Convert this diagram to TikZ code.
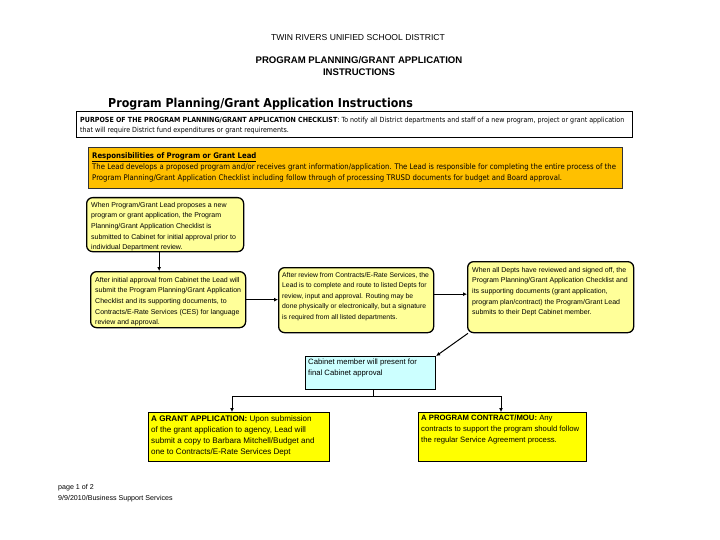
\documentclass[tikz,border=0pt]{standalone}
\usepackage{fontspec}
\setmainfont{Liberation Sans}
\newfontfamily\tahoma[FakeStretch=0.9]{DejaVu Sans}
\usetikzlibrary{arrows.meta}
\definecolor{paleyellow}{HTML}{FFFF99}
\definecolor{paleblue}{HTML}{CCFFFF}
\definecolor{leadorange}{HTML}{FFC000}
\definecolor{brightyellow}{HTML}{FFFF00}
\tikzset{
  stepbox/.style={draw=black, line width=1.3pt, rounded corners=6pt, fill=paleyellow, anchor=north west},
  endbox/.style={draw=black, line width=1.3pt, fill=brightyellow, anchor=north west},
  boxtext/.style={anchor=north west, align=left, inner sep=0pt, font=\fontsize{7}{10.6}\selectfont},
  endtext/.style={boxtext, font=\fontsize{7.7}{11}\selectfont},
  arr/.style={-{Latex[length=4pt,width=4pt]}, line width=1pt}
}
\begin{document}
\begin{tikzpicture}[x=1pt,y=-1pt]
  \useasboundingbox[fill=white] (0,0) rectangle (720,540);
  % headings
  \node[font=\fontsize{8.6}{9}\selectfont] (district) at (358,38) {TWIN RIVERS UNIFIED SCHOOL DISTRICT};
  \node[align=center, font=\bfseries\fontsize{9.6}{12}\selectfont] (title) at (359,66) {PROGRAM PLANNING/GRANT APPLICATION\\INSTRUCTIONS};
  \node[anchor=west, inner sep=0pt, font=\tahoma\bfseries\fontsize{12.3}{15}\selectfont] (heading) at (108,104) {Program Planning/Grant Application Instructions};
  % purpose and lead
  \node[draw=black, line width=1.3pt, minimum width=556pt, minimum height=26pt, anchor=north west] (purpose) at (76,111) {};
  \node[anchor=north west, align=left, inner sep=0pt, font=\tahoma\fontsize{7.05}{10}\selectfont] (purposetext) at ([shift={(4,5.5)}]purpose.north west) {\textbf{PURPOSE OF THE PROGRAM PLANNING/GRANT APPLICATION CHECKLIST}: To notify all District departments and staff of a new program, project or grant application\\that will require District fund expenditures or grant requirements.};
  \node[draw=black!80, line width=0.8pt, fill=leadorange, minimum width=534pt, minimum height=41pt, anchor=north west] (lead) at (88,147) {};
  \node[anchor=north west, align=left, inner sep=0pt, font=\tahoma\fontsize{7.7}{11.2}\selectfont] (leadtext) at ([shift={(4,5)}]lead.north west) {\textbf{\underline{Responsibilities of Program or Grant Lead}}\\The Lead develops a proposed program and/or receives grant information/application. The Lead is responsible for completing the entire process of the\\Program Planning/Grant Application Checklist including follow through of processing TRUSD documents for budget and Board approval.};
  % steps
  \node[stepbox, minimum width=157pt, minimum height=54pt] (b1) at (86,197) {};
  \node[boxtext] (t1) at ([shift={(5,5)}]b1.north west) {When Program/Grant Lead proposes a new\\program or grant application, the Program\\Planning/Grant Application Checklist is\\submitted to Cabinet for initial approval prior to\\individual Department review.};
  \node[stepbox, minimum width=155pt, minimum height=56pt] (b2) at (90,271) {};
  \node[boxtext] (t2) at ([shift={(5,6)}]b2.north west) {After initial approval from Cabinet the Lead will\\submit the Program Planning/Grant Application\\Checklist and its supporting documents, to\\Contracts/E-Rate Services (CES) for language\\review and approval.};
  \node[stepbox, minimum width=155pt, minimum height=65pt] (b3) at (278,267) {};
  \node[boxtext, font=\fontsize{6.8}{10.6}\selectfont] (t3) at ([shift={(4,5)}]b3.north west) {After review from Contracts/E-Rate Services, the\\Lead is to complete and route to listed Depts for\\review, input and approval. Routing may be\\done physically or electronically, but a signature\\is required from all listed departments.};
  \node[stepbox, minimum width=166pt, minimum height=71pt] (b4) at (467,261) {};
  \node[boxtext] (t4) at ([shift={(5,6)}]b4.north west) {When all Depts have reviewed and signed off, the\\Program Planning/Grant Application Checklist and\\its supporting documents (grant application,\\program plan/contract) the Program/Grant Lead\\submits to their Dept Cabinet member.};
  \node[draw=black, line width=1.1pt, fill=paleblue, minimum width=130pt, minimum height=33pt, anchor=north west] (cab) at (305,356) {};
  \node[endtext] (tcab) at ([shift={(3,3)}]cab.north west) {Cabinet member will present for\\final Cabinet approval};
  \node[endbox, minimum width=181pt, minimum height=49pt] (grant) at (148,412) {};
  \node[endtext, font=\fontsize{8.1}{11}\selectfont] (tgrant) at ([shift={(3,3)}]grant.north west) {\textbf{A GRANT APPLICATION:} Upon submission\\of the grant application to agency, Lead will\\submit a copy to Barbara Mitchell/Budget and\\one to Contracts/E-Rate Services Dept};
  \node[endbox, minimum width=168pt, minimum height=49pt] (contract) at (418,412) {};
  \node[endtext] (tcontract) at ([shift={(3,3)}]contract.north west) {\textbf{A PROGRAM CONTRACT/MOU:} Any\\contracts to support the program should follow\\the regular Service Agreement process.};
  % connectors
  \draw[arr] ([xshift=-6pt]b1.south) -- ([xshift=-6pt]b1.south |- b2.north);
  \draw[arr] (b2.east) -- (b2.east -| b3.west);
  \draw[arr] ([yshift=6pt]b3.east) -- ([yshift=6pt]b3.east -| b4.west);
  \draw[arr] ([xshift=1pt]b4.south west) -- (cab.north east);
  \coordinate (jl) at (232,396);
  \coordinate (jr) at (501,396);
  \draw[line width=1pt] ([xshift=3pt]cab.south) -- ([xshift=3pt]cab.south |- jl);
  \draw[line width=1pt] (jl) -- (jr);
  \draw[arr] (jl) -- (jl |- grant.north);
  \draw[arr] (jr) -- (jr |- contract.north);
  % footer
  \node[anchor=north west, align=left, inner sep=0pt, font=\fontsize{7.1}{11}\selectfont] (footer) at (58,484) {page 1 of 2\\9/9/2010/Business Support Services};
\end{tikzpicture}
\end{document}
